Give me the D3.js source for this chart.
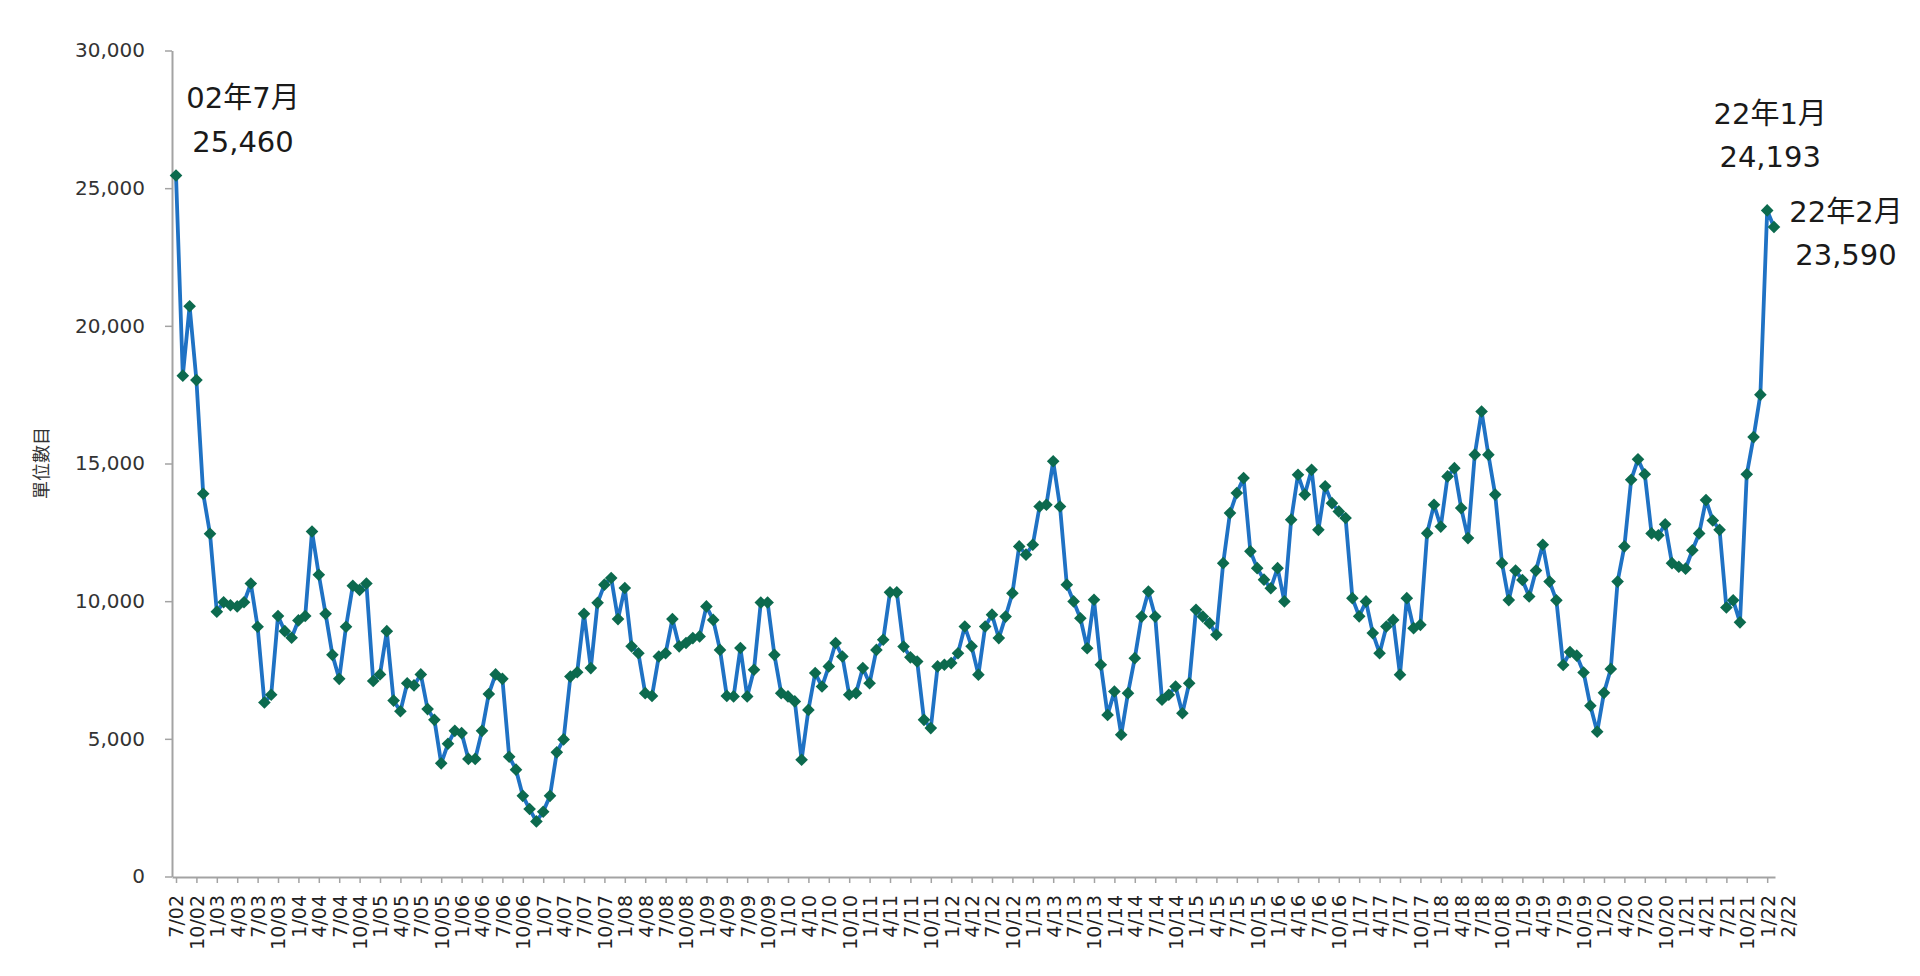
<!DOCTYPE html>
<html>
<head>
<meta charset="utf-8">
<script src="https://cdn.jsdelivr.net/npm/d3@7"></script>
<style>
  html, body { margin: 0; padding: 0; background: #fff; }
  svg { display: block; }
</style>
</head>
<body>
<svg id="chart" width="1920" height="976"></svg>
<script>
// Monthly values, 2002-07 .. 2022-02
const values = [
  25460, 18190, 20710, 18030, 13900, 12450, 9620, 9960, 9850, 9810,
  9960, 10640, 9070, 6320, 6600, 9460, 8910, 8670, 9300, 9460,
  12530, 10960, 9540, 8050, 7180, 9070, 10560, 10410, 10640, 7100,
  7340, 8910, 6390, 6000, 7020, 6940, 7340, 6080, 5690, 4110,
  4820, 5290, 5210, 4270, 4270, 5290, 6630, 7340, 7180, 4350,
  3880, 2930, 2450, 2000, 2350, 2930, 4510, 4980, 7260, 7420,
  9540, 7570, 9940, 10600, 10840, 9350, 10480, 8360, 8110, 6660,
  6560, 7990, 8110, 9350, 8360, 8480, 8660, 8720, 9810, 9320,
  8230, 6560, 6540, 8300, 6540, 7510, 9950, 9950, 8050, 6660,
  6540, 6360, 4240, 6050, 7390, 6900, 7630, 8480, 7990, 6600,
  6660, 7570, 7020, 8230, 8600, 10320, 10320, 8350, 7960, 7810,
  5690, 5390, 7630, 7690, 7750, 8110, 9080, 8360, 7330, 9080,
  9510, 8660, 9440, 10290, 11990, 11690, 12050, 13440, 13500, 15080,
  13440, 10600, 9990, 9380, 8290, 10050, 7690, 5870, 6720, 5150,
  6660, 7930, 9440, 10350, 9440, 6420, 6600, 6900, 5930, 7020,
  9690, 9440, 9200, 8780, 11380, 13200, 13930, 14470, 11810, 11200,
  10780, 10470, 11200, 9990, 12960, 14590, 13870, 14770, 12590, 14170,
  13560, 13260, 13020, 10110, 9450, 9990, 8840, 8110, 9080, 9320,
  7330, 10110, 9020, 9140, 12470, 13500, 12710, 14530, 14830, 13380,
  12290, 15320, 16890, 15320, 13870, 11380, 10040, 11110, 10770, 10170,
  11110, 12050, 10710, 10030, 7680, 8150, 8020, 7410, 6200, 5260,
  6670, 7540, 10710, 11990, 14410, 15150, 14610, 12460, 12390, 12790,
  11380, 11250, 11180, 11850, 12460, 13670, 12930, 12590, 9770, 10030,
  9230, 14610, 15960, 17500, 24193, 23590
];

// Quarterly axis labels (one every three months), plus the final month
const tickLabels = [
  "7/02","10/02",
  "1/03","4/03","7/03","10/03",
  "1/04","4/04","7/04","10/04",
  "1/05","4/05","7/05","10/05",
  "1/06","4/06","7/06","10/06",
  "1/07","4/07","7/07","10/07",
  "1/08","4/08","7/08","10/08",
  "1/09","4/09","7/09","10/09",
  "1/10","4/10","7/10","10/10",
  "1/11","4/11","7/11","10/11",
  "1/12","4/12","7/12","10/12",
  "1/13","4/13","7/13","10/13",
  "1/14","4/14","7/14","10/14",
  "1/15","4/15","7/15","10/15",
  "1/16","4/16","7/16","10/16",
  "1/17","4/17","7/17","10/17",
  "1/18","4/18","7/18","10/18",
  "1/19","4/19","7/19","10/19",
  "1/20","4/20","7/20","10/20",
  "1/21","4/21","7/21","10/21",
  "1/22","2/22"
];

const yTicks = [0, 5000, 10000, 15000, 20000, 25000, 30000];
const yTitle = "單位數目";

// Annotated points: index into values, and text lines
const annoIndex = [0, 234, 235];
const annoLines = [["02年7月", "25,460"], ["22年1月", "24,193"], ["22年2月", "23,590"]];

const svg = d3.select("#chart");
svg.append("rect").attr("width", 1920).attr("height", 976).attr("fill", "#fff");

const x = d3.scaleLinear().domain([-0.59, 235.15]).range([172, 1775]);
const y = d3.scaleLinear().domain([0, 30000]).range([876.5, 50.5]);

const axisColor = "#a3a3a3";
const latinFont = "'DejaVu Sans', 'Noto Sans CJK TC', sans-serif";

// Y axis
const yAxis = svg.append("g")
  .attr("transform", "translate(172,0)")
  .call(d3.axisLeft(y).tickValues(yTicks).tickSize(7).tickSizeOuter(0).tickPadding(20).tickFormat(d3.format(",")));
yAxis.select(".domain").attr("stroke", axisColor).attr("stroke-width", 2);
yAxis.selectAll(".tick line").attr("stroke", axisColor).attr("stroke-width", 1.5);
yAxis.selectAll(".tick text").attr("fill", "#333").style("font-family", latinFont).style("font-size", "20px");

// X axis
const tickIdx = tickLabels.map((d, k) => k * 3);
const xAxis = svg.append("g")
  .attr("transform", "translate(0,877)")
  .call(d3.axisBottom(x).tickValues(tickIdx).tickSize(6).tickSizeOuter(0).tickFormat((d, k) => tickLabels[k]));
xAxis.select(".domain").attr("stroke", axisColor).attr("stroke-width", 2);
xAxis.selectAll(".tick line").attr("stroke", axisColor).attr("stroke-width", 1.5)
  .filter((d, k) => k === tickLabels.length - 1).remove();
xAxis.selectAll(".tick text")
  .attr("fill", "#222")
  .style("font-family", latinFont).style("font-size", "19px")
  .attr("text-anchor", "end")
  .attr("transform", "rotate(-90)")
  .attr("x", -18).attr("y", 0).attr("dy", "0.36em");

// Y title
svg.append("text")
  .attr("transform", "translate(40,463) rotate(-90)")
  .attr("text-anchor", "middle").attr("dominant-baseline", "central")
  .style("font-family", "'Noto Sans CJK TC', sans-serif").style("font-size", "18px")
  .attr("fill", "#333").text(yTitle);

// Line
const line = d3.line().x((d, i) => x(i)).y(d => y(d));
svg.append("path").datum(values)
  .attr("d", line).attr("fill", "none")
  .attr("stroke", "#1f72c4").attr("stroke-width", 3.8)
  .attr("stroke-linejoin", "round");

// Markers (diamonds)
const diamond = d3.symbol().type(d3.symbolSquare).size(80);
svg.append("g").selectAll("path").data(values).join("path")
  .attr("d", diamond)
  .attr("transform", (d, i) => `translate(${x(i)},${y(d)}) rotate(45)`)
  .attr("fill", "#0c6a4e");

// Annotations
const annoOffset = [[67, -68, -24], [3, -86, -43], [72, -5, 38]];
annoIndex.forEach((idx, k) => {
  const px = x(idx), py = y(values[idx]);
  const [dx, dy1, dy2] = annoOffset[k];
  const t = svg.append("text")
    .attr("text-anchor", "middle")
    .style("font-family", latinFont).style("font-size", "29px")
    .attr("fill", "#1a1a1a");
  t.append("tspan").attr("x", px + dx).attr("y", py + dy1).text(annoLines[k][0]);
  t.append("tspan").attr("x", px + dx).attr("y", py + dy2).text(annoLines[k][1]);
});
</script>
</body>
</html>
